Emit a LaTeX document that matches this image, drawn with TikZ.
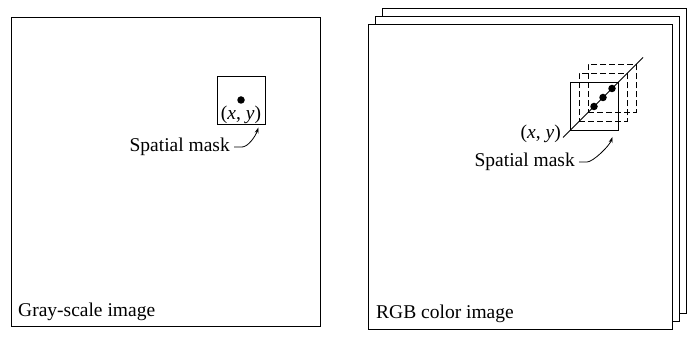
\documentclass[tikz,border=0pt]{standalone}
\usepackage{fontspec}
\setmainfont{Liberation Serif}
\usetikzlibrary{arrows.meta,positioning,calc}

\begin{document}
\begin{tikzpicture}[
  x=1pt,y=1pt,
  frame/.style={draw=black,line width=1.1pt,fill=white,minimum width=304pt,
    minimum height=305pt,anchor=south west,inner sep=0pt},
  masksq/.style={draw=black,line width=0.9pt,minimum size=48pt,inner sep=0pt},
  dashsq/.style={masksq,dash pattern=on 6pt off 3pt},
  lbl/.style={font=\fontsize{19.5}{22}\selectfont,inner sep=0pt},
  pix/.style={circle,fill=black,inner sep=0pt,minimum size=7.5pt},
  arr/.style={-{Stealth[length=6pt,width=4pt]},line width=0.8pt}
]
\useasboundingbox (0,0) rectangle (688,339);
% gray-scale image
\node[frame,minimum width=309pt,minimum height=309pt] (gray) at (11,12) {};
\node[lbl,anchor=base west] (graytxt) at (18,22) {Gray-scale image};
\node[masksq] (maskA) at (241,239) {};
\node[pix] (pxA) at (maskA.center) {};
\node[lbl,above=1pt of maskA.south] (xyA) {(\textit{x}, \textit{y})};
\node[lbl,anchor=east] (smA) at (230,192) {Spatial mask};
\draw[arr] ([xshift=4pt]smA.east) -- ++(8,0)
  .. controls +(6,0) and +(-3,-9) .. ([xshift=-7pt,yshift=-3pt]maskA.south east);
% rgb color image, three sheets
\node[frame] (sheetC) at (382,25) {};
\node[frame] (sheetB) at (375,17) {};
\node[frame] (rgb) at (368,9) {};
\node[lbl,anchor=base west] (rgbtxt) at (376,20) {RGB color image};
\node[dashsq] (maskR3) at (612,250.5) {};
\node[dashsq] (maskR2) at (603,241.5) {};
\node[masksq] (maskR1) at (594,232.5) {};
\coordinate (diagS) at ($(maskR1.center)+(-31,-31)$);
\coordinate (diagE) at ($(maskR3.center)+(31,31)$);
\draw[line width=0.8pt] (diagS) -- (diagE);
\foreach \m in {1,2,3}
  \node[pix] (pxR\m) at (maskR\m.center) {};
\node[lbl,anchor=east] (xyR) at ([shift={(-2,4)}]diagS) {(\textit{x}, \textit{y})};
\node[lbl,anchor=east] (smR) at (575,177) {Spatial mask};
\draw[arr] ([xshift=4pt]smR.east) -- ++(8,0)
  .. controls +(6,0) and +(-3,-9) .. ([xshift=-6pt,yshift=-6pt]maskR1.south east);
\end{tikzpicture}
\end{document}
